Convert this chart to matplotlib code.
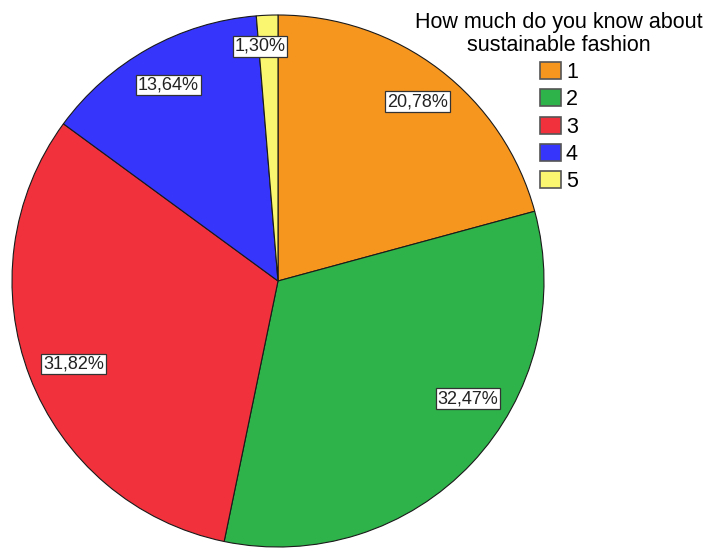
import matplotlib.pyplot as plt
import numpy as np

plt.rcParams['font.family'] = ['Liberation Sans', 'DejaVu Sans']

categories = ['1', '2', '3', '4', '5']
percents = [20.78, 32.47, 31.82, 13.64, 1.30]
colors = ['#F7961F', '#2DB34A', '#F1323C', '#3535FB', '#FBF66F']
legend_title = 'How much do you know about\nsustainable fashion'

fig = plt.figure(figsize=(7.1, 5.48), dpi=100)
# pie axes placed in pixels: centre (278, 281), radius 266
W, H = 710, 548
cx, cy, r = 278, 281, 266
ax = fig.add_axes([(cx - r) / W, (H - cy - r) / H, 2 * r / W, 2 * r / H])

wedges, _ = ax.pie(percents, colors=colors, startangle=90, counterclock=False,
                   wedgeprops=dict(edgecolor='#1a1a1a', linewidth=0.8))
ax.set_aspect('equal')
ax.set_xlim(-1, 1)
ax.set_ylim(-1, 1)

# label placement (angle tweak in degrees, radial distance)
shift = [-0.5, 11.5, 1, 0, 2]
dist = [0.855, 0.84, 0.83, 0.845, 0.885]
for w, p, s, d in zip(wedges, percents, shift, dist):
    ang = np.deg2rad((w.theta1 + w.theta2) / 2 + s)
    ax.text(d * np.cos(ang), d * np.sin(ang), f'{p:.2f}%'.replace('.', ','),
            ha='center', va='center', fontsize=13, color='#222222',
            bbox=dict(boxstyle='square,pad=0.1', fc='white', ec='#333333', lw=0.9))

leg = fig.legend(wedges, categories, title=legend_title, loc='upper center',
                 bbox_to_anchor=(559 / W, 1.0), frameon=False, fontsize=15.5,
                 title_fontsize=15.5, handlelength=0.95, handleheight=0.85,
                 handletextpad=0.25, labelspacing=0.29, borderaxespad=0.15)
leg.get_title().set_multialignment('center')
leg.get_title().set_linespacing(1.12)
for h in leg.legend_handles:
    h.set_edgecolor('#555555')
    h.set_linewidth(1.2)

fig.savefig('out.png', dpi=100)
